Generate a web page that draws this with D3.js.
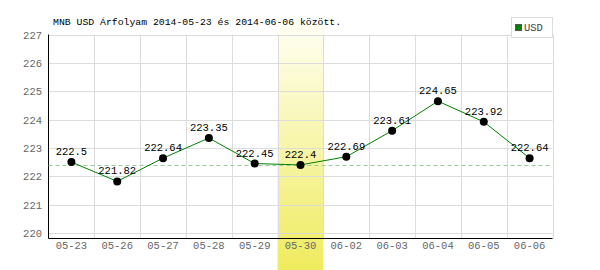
<!DOCTYPE html>
<html>
<head>
<meta charset="utf-8">
<script src="https://cdn.jsdelivr.net/npm/d3@7"></script>
<style>
  body { margin: 0; background: #fff; }
  text { font-family: "Liberation Mono", "DejaVu Sans Mono", monospace; }
</style>
</head>
<body>
<div id="chart"></div>
<script>
// chart data
const dates = ["05-23","05-26","05-27","05-28","05-29","05-30","06-02","06-03","06-04","06-05","06-06"];
const rates = [222.5, 221.82, 222.64, 223.35, 222.45, 222.4, 222.69, 223.61, 224.65, 223.92, 222.64];
const yTicks = [220, 221, 222, 223, 224, 225, 226, 227];
const highlighted = "05-30";
const refValue = 222.4;
const title = "MNB USD Árfolyam 2014-05-23 és 2014-06-06 között.";
const seriesName = "USD";

const W = 600, H = 270;
const left = 48.5, right = 552.5, bottomAxis = 238.5;

const svg = d3.select("#chart").append("svg")
  .attr("width", W).attr("height", H);

const x = d3.scaleBand().domain(dates).range([left, right]);
const y = d3.scaleLinear().domain([220, 227]).range([233, 34.5]);

// highlight gradient
const grad = svg.append("defs").append("linearGradient")
  .attr("id", "hl").attr("x1", 0).attr("y1", 0).attr("x2", 0).attr("y2", 1);
grad.append("stop").attr("offset", "0%").attr("stop-color", "#fffff4");
grad.append("stop").attr("offset", "100%").attr("stop-color", "#efeb5e");

svg.append("rect")
  .attr("x", x(highlighted))
  .attr("y", 22)
  .attr("width", x.bandwidth())
  .attr("height", H - 22)
  .attr("fill", "url(#hl)");

// grid
svg.append("g").selectAll("line")
  .data(yTicks)
  .join("line")
  .attr("x1", left).attr("x2", right)
  .attr("y1", d => Math.round(y(d)) + 0.5)
  .attr("y2", d => Math.round(y(d)) + 0.5)
  .attr("stroke", "#dcdcdc");

const vlines = dates.slice(1).map(d => x(d)).concat([right]);
svg.append("g").selectAll("line")
  .data(vlines)
  .join("line")
  .attr("x1", d => Math.round(d) + 0.5).attr("x2", d => Math.round(d) + 0.5)
  .attr("y1", y(227)).attr("y2", bottomAxis)
  .attr("stroke", "#dcdcdc");

// axes
svg.append("line")
  .attr("x1", left).attr("x2", left)
  .attr("y1", y(227)).attr("y2", bottomAxis)
  .attr("stroke", "#000");
svg.append("line")
  .attr("x1", left).attr("x2", right)
  .attr("y1", bottomAxis).attr("y2", bottomAxis)
  .attr("stroke", "#000");

svg.append("g").selectAll("text")
  .data(yTicks)
  .join("text")
  .attr("x", 42)
  .attr("y", d => y(d) + 4)
  .attr("text-anchor", "end")
  .attr("font-size", 10.5)
  .attr("fill", "#666")
  .text(d => d);

svg.append("g").selectAll("text")
  .data(dates)
  .join("text")
  .attr("x", d => x(d) + x.bandwidth() / 2)
  .attr("y", 249)
  .attr("text-anchor", "middle")
  .attr("font-size", 10.5)
  .attr("fill", "#666")
  .text(d => d);

// reference dashed line
svg.append("line")
  .attr("x1", left).attr("x2", right)
  .attr("y1", Math.round(y(refValue)) + 0.5)
  .attr("y2", Math.round(y(refValue)) + 0.5)
  .attr("stroke", "#9c9")
  .attr("stroke-dasharray", "4,3");

// series
const pts = dates.map((d, i) => [x(d) + x.bandwidth() / 2, y(rates[i])]);
svg.append("path")
  .attr("d", d3.line()(pts))
  .attr("fill", "none")
  .attr("stroke", "#008000")
  .attr("stroke-width", 1);

svg.append("g").selectAll("circle")
  .data(pts)
  .join("circle")
  .attr("cx", d => d[0]).attr("cy", d => d[1])
  .attr("r", 4)
  .attr("fill", "#000");

svg.append("g").selectAll("text")
  .data(rates)
  .join("text")
  .attr("x", (d, i) => pts[i][0])
  .attr("y", (d, i) => pts[i][1] - 7)
  .attr("text-anchor", "middle")
  .attr("font-size", 10.5)
  .attr("fill", "#000")
  .text(d => d);

// title
svg.append("text")
  .attr("x", 53).attr("y", 25)
  .attr("font-size", 9.8)
  .attr("fill", "#000")
  .text(title);

// legend
const lg = svg.append("g");
lg.append("rect")
  .attr("x", 511.5).attr("y", 17.5)
  .attr("width", 41).attr("height", 20)
  .attr("fill", "#fff").attr("stroke", "#dcdcdc");
lg.append("rect")
  .attr("x", 515.5).attr("y", 24.5)
  .attr("width", 6).attr("height", 6)
  .attr("fill", "#008000").attr("stroke", "#555");
lg.append("text")
  .attr("x", 524).attr("y", 31)
  .attr("font-size", 10.5)
  .attr("fill", "#444")
  .text(seriesName);
</script>
</body>
</html>
